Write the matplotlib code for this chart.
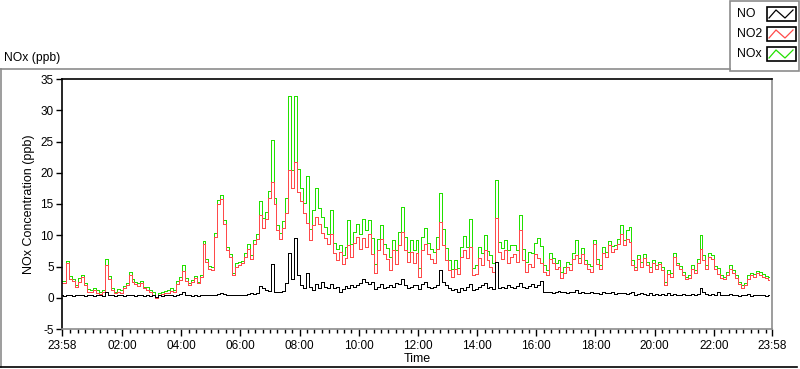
import numpy as np
import matplotlib
matplotlib.use("Agg")
import matplotlib.pyplot as plt
from matplotlib.lines import Line2D
from matplotlib.patches import Rectangle

# sample times in minutes after midnight (6 min steps, first sample at 23:58)
minutes = np.arange(-2, 1438, 6)

# NO2 (ppb), 10 samples per hour
no2 = [
    2.3, 2.4, 5.5, 3.0, 2.7, 1.7, 2.6, 3.3, 2.0, 1.0,
    0.9, 1.3, 0.8, 0.6, 1.0, 5.3, 3.0, 1.2, 0.7, 1.0,
    0.8, 1.6, 2.0, 3.7, 2.6, 2.2, 1.9, 2.3, 1.5, 1.3,
    1.0, 0.5, -0.1, 0.4, 0.6, 0.7, 0.8, 1.1, 1.0, 2.2,
    2.8, 4.3, 2.7, 2.0, 2.5, 3.1, 2.3, 3.3, 8.6, 5.8,
    4.6, 4.5, 9.8, 15.0, 15.8, 11.8, 7.6, 6.6, 3.6, 5.0,
    5.2, 5.5, 6.6, 7.8, 6.2, 8.6, 9.4, 13.2, 11.2, 12.6,
    16.0, 18.5, 15.0, 10.8, 9.4, 11.2, 13.5, 20.5, 17.5, 21.8,
    17.0, 15.5, 13.5, 12.0, 9.2, 11.6, 13.0, 11.8, 10.4, 9.6,
    8.6, 10.2, 7.2, 6.0, 7.4, 5.4, 6.3, 8.4, 6.6, 8.8,
    9.8, 7.8, 9.6, 8.2, 10.2, 7.0, 4.0, 7.6, 9.4, 7.0,
    6.2, 4.5, 7.6, 5.4, 8.4, 10.6, 7.6, 5.8, 7.4, 5.6,
    7.2, 3.4, 7.6, 8.6, 7.0, 6.2, 5.6, 7.8, 12.2, 8.4,
    6.0, 4.4, 3.4, 4.6, 3.8, 6.6, 7.6, 6.4, 8.2, 3.6,
    3.8, 6.4, 5.2, 7.6, 6.0, 5.0, 4.2, 12.8, 7.4, 6.2,
    7.6, 5.6, 6.6, 7.0, 5.8, 10.8, 6.0, 4.2, 5.4, 5.0,
    7.0, 6.4, 5.6, 4.2, 3.6, 6.2, 5.6, 4.6, 5.0, 3.2,
    4.0, 5.0, 4.4, 6.2, 6.8, 5.6, 7.0, 5.4, 4.6, 4.2,
    8.6, 5.4, 4.6, 7.2, 6.6, 8.4, 7.4, 7.8, 8.6, 10.2,
    8.4, 9.4, 9.0, 5.2, 4.4, 6.2, 5.0, 6.4, 5.2, 4.2,
    5.6, 4.6, 5.4, 4.4, 2.0, 3.8, 3.4, 6.6, 5.2, 4.6,
    3.6, 3.0, 3.2, 4.6, 4.0, 5.6, 7.8, 6.0, 4.6, 6.6,
    6.2, 4.6, 3.8, 3.2, 3.0, 3.6, 4.6, 4.0, 3.2, 2.2,
    1.6, 2.0, 3.0, 3.6, 3.3, 3.9, 3.6, 3.4, 3.2, 2.9,
]

# NO (ppb)
no = [
    0.4, 0.3, 0.4, 0.5, 0.3, 0.4, 0.5, 0.4, 0.3, 0.4,
    0.4, 0.3, 0.5, 0.4, 0.3, 1.0, 0.5, 0.4, 0.3, 0.4,
    0.4, 0.3, 0.4, 0.5, 0.4, 0.3, 0.4, 0.4, 0.3, 0.4,
    0.3, 0.4, 0.2, 0.4, 0.3, 0.4, 0.5, 0.4, 0.3, 0.5,
    0.6, 0.9, 0.5, 0.4, 0.3, 0.4, 0.3, 0.4, 0.5, 0.4,
    0.5, 0.4, 0.5, 0.6, 0.8, 0.6, 0.5, 0.4, 0.4, 0.5,
    0.5, 0.4, 0.5, 0.6, 0.7, 0.6, 0.8, 1.9, 1.5, 1.2,
    1.1, 5.4, 1.0, 0.9, 1.0, 1.1, 2.4, 7.2, 3.0, 9.6,
    3.6, 2.0, 1.6, 4.0, 1.8, 1.3, 2.2, 1.5, 2.6, 1.8,
    1.6, 2.2, 1.5, 1.8, 1.0, 1.4, 1.9, 1.6, 2.0, 1.7,
    2.0, 2.4, 3.0, 2.6, 2.2, 2.5, 1.4, 1.8, 2.2, 1.6,
    1.8, 2.0, 1.7, 2.3, 2.2, 3.0, 2.1, 1.6, 1.8, 2.0,
    2.0, 1.4, 2.2, 2.6, 1.8, 1.6, 1.7, 2.0, 4.4, 2.6,
    2.0, 1.6, 1.2, 1.4, 1.0, 1.5, 1.3, 1.8, 2.2, 1.2,
    1.4, 1.8, 2.0, 2.4, 1.5, 1.8, 1.4, 5.8, 1.6, 1.8,
    1.6, 2.0, 1.8, 1.5, 1.9, 2.4, 1.8, 1.6, 1.9, 2.2,
    1.7, 2.0, 2.7, 1.0, 0.9, 1.0, 0.8, 0.9, 1.1, 0.9,
    0.9, 0.8, 1.0, 0.9, 1.2, 0.8, 0.9, 0.7, 0.8, 0.9,
    0.7, 0.8, 0.6, 0.9, 0.8, 0.7, 0.9, 0.6, 0.8, 0.7,
    0.8, 0.6, 0.7, 0.9, 0.5, 0.6, 0.7, 0.6, 0.5, 0.7,
    0.5, 0.6, 0.4, 0.6, 0.5, 0.7, 0.5, 0.6, 0.4, 0.5,
    0.6, 0.4, 0.5, 0.6, 0.5, 0.6, 1.6, 0.9, 0.6, 0.5,
    0.6, 0.5, 0.9, 0.5, 0.4, 0.5, 0.6, 0.4, 0.5, 0.3,
    0.5, 0.4, 0.6, 0.3, 0.5, 0.4, 0.5, 0.4, 0.3, 0.4,
]

# NOx (ppb)
nox = [
    2.7, 2.7, 5.9, 3.5, 3.0, 2.1, 3.1, 3.7, 2.3, 1.4,
    1.3, 1.6, 1.3, 1.0, 1.3, 6.2, 3.5, 1.6, 1.0, 1.4,
    1.2, 1.9, 2.4, 4.2, 3.0, 2.5, 2.3, 2.7, 1.8, 1.7,
    1.3, 0.9, 0.2, 0.8, 0.9, 1.1, 1.3, 1.5, 1.3, 2.7,
    3.4, 5.2, 3.2, 2.4, 2.8, 3.5, 2.6, 3.7, 9.1, 6.2,
    5.1, 4.9, 10.3, 15.6, 16.5, 12.4, 8.1, 7.0, 4.0, 5.5,
    5.7, 5.9, 7.1, 8.6, 6.9, 9.2, 10.2, 15.5, 12.7, 13.8,
    17.1, 25.3, 16.0, 11.7, 10.4, 12.3, 15.9, 32.2, 20.5, 32.3,
    20.6, 17.5, 15.1, 19.5, 11.0, 14.0, 17.6, 14.3, 13.0, 11.4,
    10.2, 14.0, 8.7, 7.8, 8.4, 6.8, 8.2, 12.4, 8.6, 10.5,
    11.8, 10.2, 12.6, 10.8, 12.4, 9.5, 5.4, 9.4, 11.6, 8.6,
    8.0, 6.5, 9.3, 7.7, 10.6, 14.6, 9.7, 7.4, 9.2, 7.6,
    9.2, 4.8, 9.8, 11.2, 8.8, 7.8, 7.3, 9.8, 16.8, 11.0,
    8.0, 6.0, 4.6, 6.0, 4.8, 8.1, 9.9, 8.2, 12.6, 4.8,
    5.2, 8.2, 7.2, 10.0, 7.5, 6.8, 5.6, 18.8, 9.0, 8.0,
    9.2, 7.6, 8.4, 8.5, 7.7, 13.2, 7.8, 5.8, 7.3, 7.2,
    8.7, 9.6, 8.3, 5.2, 4.5, 7.2, 6.4, 5.5, 6.1, 4.1,
    4.9, 5.8, 5.4, 7.1, 9.2, 6.4, 7.9, 6.1, 5.4, 5.1,
    9.3, 6.2, 5.2, 8.1, 7.4, 9.1, 8.3, 8.4, 9.4, 11.6,
    9.2, 10.8, 11.4, 6.1, 4.9, 6.8, 5.7, 7.0, 5.7, 4.9,
    6.1, 5.2, 5.8, 5.0, 2.5, 4.5, 3.9, 7.2, 5.6, 5.1,
    4.2, 3.4, 3.7, 5.2, 4.5, 6.2, 10.0, 6.9, 5.2, 7.1,
    6.8, 5.1, 4.7, 3.7, 3.4, 4.1, 5.2, 4.4, 3.7, 2.5,
    2.1, 2.4, 3.6, 3.9, 3.8, 4.3, 4.1, 3.8, 3.5, 3.3,
]

tick_pos = [-2, 120, 240, 360, 480, 600, 720, 840, 960, 1080, 1200, 1320, 1438]
tick_labels = ["23:58", "02:00", "04:00", "06:00", "08:00", "10:00", "12:00",
               "14:00", "16:00", "18:00", "20:00", "22:00", "23:58"]
y_ticks = [-5, 0, 5, 10, 15, 20, 25, 30, 35]

GREEN = "#22e000"
RED = "#ff4a4a"
GRAY = "#8c8c8c"

plt.rcParams["font.family"] = ["Liberation Sans", "DejaVu Sans"]
plt.rcParams["axes.unicode_minus"] = False

fig = plt.figure(figsize=(8, 3.69), dpi=100)
ax = fig.add_axes([62 / 800, 1 - 329 / 369, 710 / 800, 250 / 369])

# stepped, un-smoothed 1px traces like the instrument display
for series, c in [(nox, GREEN), (no2, RED), (no, "black")]:
    ax.plot(minutes, series, color=c, lw=0.72, drawstyle="steps-mid", antialiased=False)

ax.set_xlim(-2, 1438)
ax.set_ylim(-5, 35)
ax.set_xticks(tick_pos)
ax.set_xticklabels(tick_labels)
ax.set_xticks(np.arange(15, 1438, 15), minor=True)
ax.set_yticks(y_ticks)

ax.tick_params(axis="both", labelsize=8.5, colors="black", width=1)
ax.tick_params(axis="x", which="major", length=5, pad=3)
ax.tick_params(axis="x", which="minor", length=3, width=1)
ax.tick_params(axis="y", length=4, pad=2)

ax.spines["left"].set_color("black")
ax.spines["top"].set_color("black")
ax.spines["right"].set_color(GRAY)
ax.spines["bottom"].set_color(GRAY)
for s in ax.spines.values():
    s.set_linewidth(1.2)

ax.set_xlabel("Time", fontsize=9, labelpad=1)
ax.set_ylabel("NOx Concentration (ppb)", fontsize=9, labelpad=4)

# panel frame and caption
fig.text(4 / 800, 1 - 58 / 369, "NOx (ppb)", fontsize=8.7, va="center", ha="left")
fig.add_artist(Line2D([0, 730 / 800], [1 - 68.5 / 369] * 2, color=GRAY, lw=1.2))
fig.add_artist(Line2D([0.6 / 800] * 2, [1 - 68.5 / 369, 1 - 367 / 369], color=GRAY, lw=1.2))
fig.add_artist(Line2D([0, 797 / 800], [1 - 367 / 369] * 2, color="black", lw=1.2))

# legend box
fig.add_artist(Rectangle((730 / 800, 1 - 71 / 369), 68.5 / 800, 70.5 / 369,
                         fill=False, edgecolor=GRAY, lw=1.2))
names = ["NO", "NO2", "NOx"]
colors = ["black", RED, GREEN]
for k, (name, c) in enumerate(zip(names, colors)):
    top = 7 + 20 * k
    fig.text(737 / 800, 1 - (top + 7) / 369, name, fontsize=8.8, va="center", ha="left")
    fig.add_artist(Rectangle((767 / 800, 1 - (top + 14) / 369), 28.5 / 800, 14 / 369,
                             fill=False, edgecolor="black", lw=1.2))
    zx = np.array([769, 776, 785, 793]) / 800
    zy = 1 - (top + np.array([11, 3, 11, 3])) / 369
    fig.add_artist(Line2D(zx, zy, color=c, lw=0.9))

fig.savefig("out.png", dpi=100)
